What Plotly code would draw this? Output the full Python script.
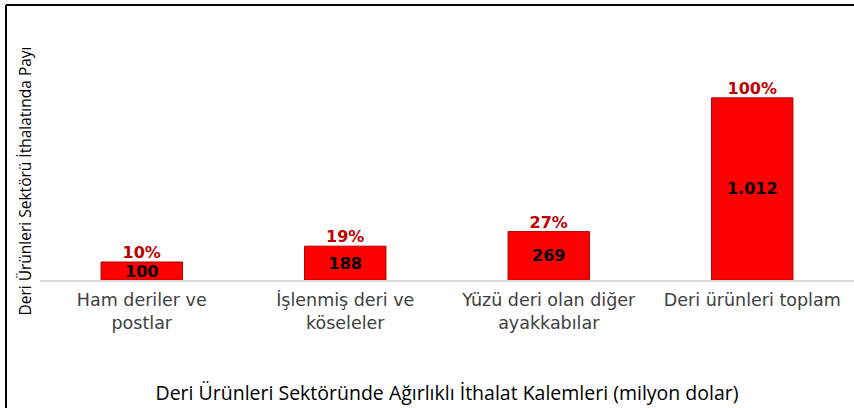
import plotly.graph_objects as go

categories = ["Ham deriler ve<br>postlar", "İşlenmiş deri ve<br>köseleler",
              "Yüzü deri olan diğer<br>ayakkabılar", "Deri ürünleri toplam"]
values = [100, 188, 269, 1012]
shares = [10, 19, 27, 100]

fig = go.Figure()
fig.add_trace(go.Bar(
    x=categories, y=values,
    marker=dict(color="#FF0000", line=dict(color="#B00000", width=1)),
    texttemplate="%{y:,.0f}", textposition="inside", insidetextanchor="middle",
    textfont=dict(family="DejaVu Sans", size=16, color="#000000", weight="bold"),
    width=0.4, cliponaxis=False, showlegend=False,
))
fig.add_trace(go.Scatter(
    x=categories, y=values, mode="text",
    text=[f"{s}%" for s in shares], textposition="top center",
    textfont=dict(family="DejaVu Sans", size=16, color="#C00000", weight="bold"),
    cliponaxis=False, showlegend=False,
))

L, T, B = 40, 82, 128
W, H = 854, 408
ph = H - T - B
pw = W - L

fig.update_layout(
    width=W, height=H,
    margin=dict(l=L, r=0, t=T, b=B),
    plot_bgcolor="white", paper_bgcolor="white",
    separators=",.",
    uniformtext=dict(minsize=16, mode="show"),
    xaxis=dict(showline=True, linecolor="#D9D9D9", linewidth=1.5, ticks="",
               ticklabelstandoff=3,
               tickfont=dict(family="DejaVu Sans", size=17.5, color="#404040"),
               title=dict(text="Deri Ürünleri Sektöründe Ağırlıklı İthalat Kalemleri (milyon dolar)",
                          font=dict(family="Open Sans", size=19.5, color="#000000"),
                          standoff=55)),
    yaxis=dict(range=[0, ph / 0.18], showticklabels=False, showgrid=False,
               zeroline=False, showline=False,
               title=dict(text="Deri Ürünleri Sektörü İthalatında Payı",
                          font=dict(family="Open Sans", size=15.5, color="#000000"),
                          standoff=3)),
    shapes=[
        dict(type="line", xref="paper", yref="paper",
             x0=(6 - L) / pw, x1=1.01, y0=(H - B - 5) / ph, y1=(H - B - 5) / ph,
             line=dict(color="black", width=2)),
        dict(type="line", xref="paper", yref="paper",
             x0=(6 - L) / pw, x1=(6 - L) / pw, y0=(H - B - 5) / ph, y1=-B / ph - 0.1,
             line=dict(color="black", width=2)),
    ],
)

fig.write_html("out.html", config={"displayModeBar": False},
               post_script="document.body.style.margin='0';document.body.style.overflow='hidden';")
